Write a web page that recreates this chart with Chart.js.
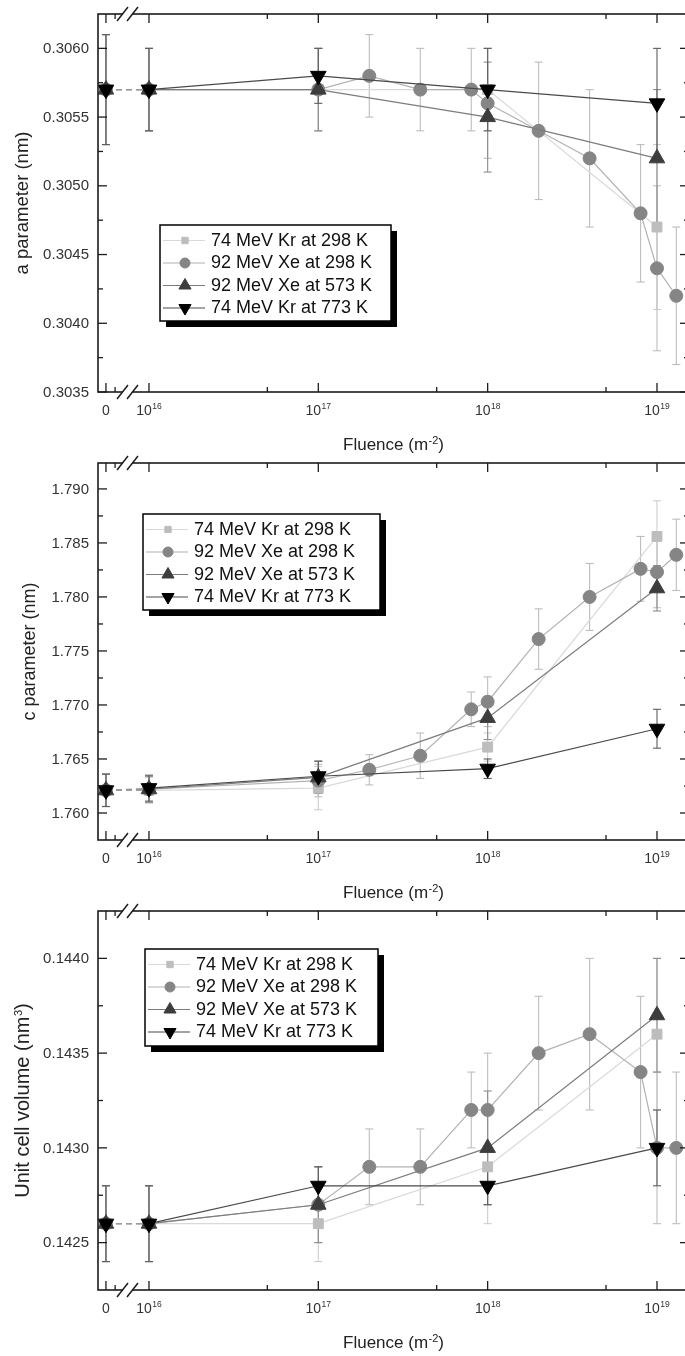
<!DOCTYPE html>
<html>
<head>
<meta charset="utf-8">
<script src="https://cdn.jsdelivr.net/npm/chart.js@4.4.1/dist/chart.umd.min.js"></script>
<style>
html,body{margin:0;padding:0;background:#fff;overflow:hidden;}
body{width:685px;height:1356px;position:relative;}
canvas{position:absolute;left:0;}
</style>
</head>
<body>
<canvas id="pa" width="700" height="470" style="top:0px"></canvas>
<canvas id="pc" width="700" height="470" style="top:449px"></canvas>
<canvas id="pv" width="700" height="470" style="top:897px"></canvas>
<script>
// ---------------- data ----------------
const seriesNames = ['74 MeV Kr at 298 K', '92 MeV Xe at 298 K', '92 MeV Xe at 573 K', '74 MeV Kr at 773 K'];

const fluenceShort = [0, 1e16, 1e17, 1e18, 1e19];
const fluenceXe298 = [0, 1e16, 1e17, 2e17, 4e17, 8e17, 1e18, 2e18, 4e18, 8e18, 1e19, 1.3e19];

const xTickFluence = [0, 1e16, 1e17, 1e18, 1e19];
const xTickLabels = ['0', '10^16', '10^17', '10^18', '10^19'];
const xMinorFluence = [5e16, 5e17, 5e18];

const aTicks = [0.3035, 0.3040, 0.3045, 0.3050, 0.3055, 0.3060];
const cTicks = [1.760, 1.765, 1.770, 1.775, 1.780, 1.785, 1.790];
const vTicks = [0.1425, 0.1430, 0.1435, 0.1440];

// a parameter (nm)
const aKr298    = [0.3057, 0.3057, 0.3057, 0.3057, 0.3047];
const aKr298Err = [0.0004, 0.0003, 0.0003, 0.0003, 0.0006];
const aXe298    = [0.3057, 0.3057, 0.3057, 0.3058, 0.3057, 0.3057, 0.3056, 0.3054, 0.3052, 0.3048, 0.3044, 0.3042];
const aXe298Err = [0.0004, 0.0003, 0.0003, 0.0003, 0.0003, 0.0003, 0.0004, 0.0005, 0.0005, 0.0005, 0.0006, 0.0005];
const aXe573    = [0.3057, 0.3057, 0.3057, 0.3055, 0.3052];
const aXe573Err = [0.0004, 0.0003, 0.0003, 0.0004, 0.0005];
const aKr773    = [0.3057, 0.3057, 0.3058, 0.3057, 0.3056];
const aKr773Err = [0.0004, 0.0003, 0.0002, 0.0003, 0.0004];

// c parameter (nm)
const cKr298    = [1.7621, 1.7621, 1.7623, 1.7661, 1.7856];
const cKr298Err = [0.0015, 0.0012, 0.0020, 0.0013, 0.0033];
const cXe298    = [1.7621, 1.7622, 1.7630, 1.7640, 1.7653, 1.7696, 1.7703, 1.7761, 1.7800, 1.7826, 1.7823, 1.7839];
const cXe298Err = [0.0015, 0.0012, 0.0015, 0.0014, 0.0021, 0.0016, 0.0023, 0.0028, 0.0031, 0.0030, 0.0033, 0.0033];
const cXe573    = [1.7621, 1.7622, 1.7633, 1.7688, 1.7808];
const cXe573Err = [0.0015, 0.0012, 0.0015, 0.0020, 0.0021];
const cKr773    = [1.7621, 1.7623, 1.7634, 1.7641, 1.7678];
const cKr773Err = [0.0015, 0.0012, 0.0014, 0.0009, 0.0018];

// unit cell volume (nm^3)
const vKr298    = [0.1426, 0.1426, 0.1426, 0.1429, 0.1436];
const vKr298Err = [0.0002, 0.0002, 0.0002, 0.0003, 0.0004];
const vXe298    = [0.1426, 0.1426, 0.1427, 0.1429, 0.1429, 0.1432, 0.1432, 0.1435, 0.1436, 0.1434, 0.1430, 0.1430];
const vXe298Err = [0.0002, 0.0002, 0.0002, 0.0002, 0.0002, 0.0002, 0.0003, 0.0003, 0.0004, 0.0004, 0.0004, 0.0004];
const vXe573    = [0.1426, 0.1426, 0.1427, 0.1430, 0.1437];
const vXe573Err = [0.0002, 0.0002, 0.0002, 0.0003, 0.0003];
const vKr773    = [0.1426, 0.1426, 0.1428, 0.1428, 0.1430];
const vKr773Err = [0.0002, 0.0002, 0.0001, 0.0001, 0.0002];

// ---------------- axis mapping (broken log axis, log10 units) ----------------
const ZERO_POS = 15.746;   // where "0" sits on the broken axis
const ZERO_MINOR = 15.80;
const X_MIN = 15.699, X_MAX = 19.189;
function xv(f) { return f === 0 ? ZERO_POS : Math.log10(f); }

// ---------------- styles ----------------
const FONT = "'Liberation Sans', Arial, Helvetica, sans-serif";
const AXIS = '#1c1c1c';
const TXT = '#333333';
const styles = [
  { pointStyle: 'rect',     rotation: 0,   radius: 7,   lr: 4.5, fill: '#bdbdbd', line: '#d9d9d9', err: '#cdcdcd' },
  { pointStyle: 'circle',   rotation: 0,   radius: 6.5, lr: 5,   fill: '#858585', line: '#b2b2b2', err: '#bdbdbd' },
  { pointStyle: 'triangle', rotation: 0,   radius: 9,   lr: 7,   fill: '#3d3d3d', line: '#7c7c7c', err: '#8c8c8c' },
  { pointStyle: 'triangle', rotation: 180, radius: 9,   lr: 7,   fill: '#000000', line: '#4a4a4a', err: '#5e5e5e' }
];

const panels = [
  { canvas: 'pa', yMin: 0.3035, yMax: 0.30625, ticks: aTicks, decimals: 4,
    title: [['a parameter (nm)', false]], titleX: 28, titleSize: 18.5,
    fluences: [fluenceShort, fluenceXe298, fluenceShort, fluenceShort],
    values: [aKr298, aXe298, aXe573, aKr773], errors: [aKr298Err, aXe298Err, aXe573Err, aKr773Err],
    legend: { x: 160, y: 225, w: 231, h: 96 }, pad: { top: 14, bottom: 78 } },
  { canvas: 'pc', yMin: 1.7575, yMax: 1.7924, ticks: cTicks, decimals: 3,
    title: [['c parameter (nm)', false]], titleX: 35, titleSize: 18,
    fluences: [fluenceShort, fluenceXe298, fluenceShort, fluenceShort],
    values: [cKr298, cXe298, cXe573, cKr773], errors: [cKr298Err, cXe298Err, cXe573Err, cKr773Err],
    legend: { x: 143, y: 65, w: 237, h: 96 }, pad: { top: 14, bottom: 79 } },
  { canvas: 'pv', yMin: 0.14225, yMax: 0.14425, ticks: vTicks, decimals: 4,
    title: [['Unit cell volume (nm', false], ['3', true], [')', false]], titleX: 29, titleSize: 20,
    fluences: [fluenceShort, fluenceXe298, fluenceShort, fluenceShort],
    values: [vKr298, vXe298, vXe573, vKr773], errors: [vKr298Err, vXe298Err, vXe573Err, vKr773Err],
    legend: { x: 145, y: 52, w: 233, h: 97 }, pad: { top: 14, bottom: 77 } }
];

const xTitle = [['Fluence (m', false], ['-2', true], [')', false]];

// ---------------- drawing helpers ----------------
function seg(ctx, x1, y1, x2, y2) { ctx.beginPath(); ctx.moveTo(x1, y1); ctx.lineTo(x2, y2); ctx.stroke(); }

function marker(ctx, style, r, x, y, rot) {
  ctx.beginPath();
  if (style === 'circle') {
    ctx.arc(x, y, r, 0, Math.PI * 2);
  } else if (style === 'rect') {
    const h = r * Math.SQRT1_2;
    ctx.rect(x - h, y - h, 2 * h, 2 * h);
  } else {
    let rad = (rot || 0) * Math.PI / 180;
    for (let k = 0; k < 3; k++) {
      const px = x + Math.sin(rad) * r, py = y - Math.cos(rad) * r;
      if (k === 0) ctx.moveTo(px, py); else ctx.lineTo(px, py);
      rad += 2 * Math.PI / 3;
    }
    ctx.closePath();
  }
  ctx.fill();
  ctx.stroke();
}

function richWidth(ctx, parts, size, supSize) {
  let w = 0;
  parts.forEach(([t, sup]) => { ctx.font = (sup ? supSize : size) + 'px ' + FONT; w += ctx.measureText(t).width + (sup ? 0.5 : 0); });
  return w;
}
function drawRich(ctx, parts, cx, baseY, size, supSize, rise) {
  const w = richWidth(ctx, parts, size, supSize);
  let x = cx - w / 2;
  ctx.textAlign = 'left';
  ctx.textBaseline = 'alphabetic';
  parts.forEach(([t, sup]) => {
    ctx.font = (sup ? supSize : size) + 'px ' + FONT;
    ctx.fillText(t, x + (sup ? 0.5 : 0), sup ? baseY - rise : baseY);
    x += ctx.measureText(t).width + (sup ? 0.5 : 0);
  });
}

function makeDeco(p) {
  return {
    id: 'deco_' + p.canvas,
    beforeDatasetsDraw(chart) {
      const ctx = chart.ctx, xs = chart.scales.x, ys = chart.scales.y;
      ctx.save();
      chart.data.datasets.forEach((ds, i) => {
        ctx.strokeStyle = styles[i].err;
        ctx.lineWidth = 1.1;
        ds.data.forEach((pt, j) => {
          const e = ds.errs[j];
          const px = xs.getPixelForValue(pt.x);
          const y1 = ys.getPixelForValue(pt.y - e), y2 = ys.getPixelForValue(pt.y + e);
          seg(ctx, px, y1, px, y2);
          seg(ctx, px - 4, y1, px + 4, y1);
          seg(ctx, px - 4, y2, px + 4, y2);
        });
      });
      ctx.restore();
    },
    afterDatasetsDraw(chart) {
      const ctx = chart.ctx, xs = chart.scales.x, ys = chart.scales.y, a = chart.chartArea;
      ctx.save();
      // frame
      ctx.strokeStyle = AXIS;
      ctx.lineWidth = 1.6;
      ctx.strokeRect(a.left, a.top, a.right - a.left, a.bottom - a.top);
      // ticks
      ctx.lineWidth = 1.3;
      const majX = xTickFluence.map(xv);
      const minX = xMinorFluence.map(xv).concat([ZERO_MINOR]);
      majX.forEach(v => { const px = xs.getPixelForValue(v); seg(ctx, px, a.bottom, px, a.bottom - 9); seg(ctx, px, a.top, px, a.top + 9); });
      minX.forEach(v => { const px = xs.getPixelForValue(v); seg(ctx, px, a.bottom, px, a.bottom - 5); seg(ctx, px, a.top, px, a.top + 5); });
      const step = p.ticks[1] - p.ticks[0];
      const minY = [];
      for (let k = -1; k < p.ticks.length; k++) {
        const m = (k < 0 ? p.ticks[0] - step : p.ticks[k]) + step / 2;
        if (m > p.yMin + 1e-9 && m < p.yMax - 1e-9) minY.push(m);
      }
      p.ticks.forEach(v => { const py = ys.getPixelForValue(v); seg(ctx, a.left, py, a.left + 9, py); seg(ctx, a.right, py, a.right - 9, py); });
      minY.forEach(v => { const py = ys.getPixelForValue(v); seg(ctx, a.left, py, a.left + 5, py); seg(ctx, a.right, py, a.right - 5, py); });
      // axis breaks
      [a.top, a.bottom].forEach(y => {
        ctx.fillStyle = '#ffffff';
        ctx.fillRect(a.left + 25, y - 2, 9, 4);
        ctx.strokeStyle = AXIS;
        ctx.lineWidth = 1.5;
        seg(ctx, a.left + 19, y + 7, a.left + 30, y - 7);
        seg(ctx, a.left + 29, y + 7, a.left + 40, y - 7);
      });
      // y tick labels
      ctx.fillStyle = TXT;
      ctx.font = '15px ' + FONT;
      ctx.textAlign = 'right';
      ctx.textBaseline = 'middle';
      p.ticks.forEach(v => ctx.fillText(v.toFixed(p.decimals), a.left - 9, ys.getPixelForValue(v) + 0.5));
      // x tick labels
      xTickFluence.forEach((f, k) => {
        const px = xs.getPixelForValue(xv(f));
        const lab = xTickLabels[k].split('^');
        if (lab.length === 1) {
          ctx.font = '14px ' + FONT; ctx.textAlign = 'center'; ctx.textBaseline = 'alphabetic';
          ctx.fillText(lab[0], px, a.bottom + 23);
        } else {
          drawRich(ctx, [[lab[0], false], [lab[1], true]], px, a.bottom + 23, 14, 8.5, 6);
        }
      });
      // x title
      ctx.fillStyle = '#222';
      drawRich(ctx, xTitle, (a.left + a.right) / 2, a.bottom + 58, 17, 11, 6);
      // y title
      ctx.save();
      ctx.translate(p.titleX, (a.top + a.bottom) / 2);
      ctx.rotate(-Math.PI / 2);
      drawRich(ctx, p.title, 0, 0, p.titleSize, 11, 7);
      ctx.restore();
      // legend
      const L = p.legend;
      ctx.fillStyle = '#000';
      ctx.fillRect(L.x + 6, L.y + 6, L.w, L.h);
      ctx.fillStyle = '#fff';
      ctx.fillRect(L.x, L.y, L.w, L.h);
      ctx.strokeStyle = '#000';
      ctx.lineWidth = 1.5;
      ctx.strokeRect(L.x, L.y, L.w, L.h);
      styles.forEach((s, i) => {
        const y = L.y + 15.5 + i * 22.5;
        ctx.strokeStyle = s.line; ctx.lineWidth = 1.2;
        seg(ctx, L.x + 3, y, L.x + 45, y);
        ctx.fillStyle = s.fill; ctx.strokeStyle = s.fill; ctx.lineWidth = 1;
        marker(ctx, s.pointStyle, s.lr, L.x + 25, y, s.rotation);
        ctx.fillStyle = '#111';
        ctx.font = '18px ' + FONT; ctx.textAlign = 'left'; ctx.textBaseline = 'middle';
        ctx.fillText(seriesNames[i], L.x + 51, y + 0.5);
      });
      ctx.restore();
    }
  };
}

// ---------------- charts ----------------
panels.forEach(p => {
  const datasets = styles.map((s, i) => ({
    label: seriesNames[i],
    data: p.fluences[i].map((f, j) => ({ x: xv(f), y: p.values[i][j] })),
    errs: p.errors[i],
    borderColor: s.line,
    borderWidth: 1.2,
    backgroundColor: s.fill,
    pointStyle: s.pointStyle,
    pointRotation: s.rotation,
    pointRadius: s.radius,
    pointBackgroundColor: s.fill,
    pointBorderColor: s.fill,
    pointBorderWidth: 1,
    tension: 0,
    fill: false,
    order: 3 - i,
    clip: false,
    segment: {
      borderDash: c => (c.p0DataIndex === 0 ? [6, 4] : undefined),
      borderColor: c => (c.p0DataIndex === 0 ? '#9a9a9a' : undefined)
    }
  }));
  new Chart(document.getElementById(p.canvas), {
    type: 'line',
    data: { datasets },
    options: {
      responsive: false,
      animation: false,
      events: [],
      layout: { padding: { left: 98, right: 11, top: p.pad.top, bottom: p.pad.bottom } },
      scales: {
        x: { type: 'linear', min: X_MIN, max: X_MAX, display: false },
        y: { type: 'linear', min: p.yMin, max: p.yMax, display: false }
      },
      plugins: { legend: { display: false }, tooltip: { enabled: false } }
    },
    plugins: [makeDeco(p)]
  });
});
</script>
</body>
</html>
